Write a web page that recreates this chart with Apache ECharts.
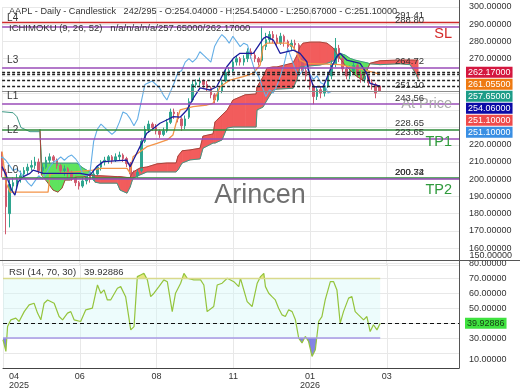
<!DOCTYPE html>
<html><head><meta charset="utf-8">
<script src="https://cdn.jsdelivr.net/npm/echarts@6/dist/echarts.min.js"></script>
<style>html,body{margin:0;padding:0;background:#fff}#c{width:520px;height:390px}</style>
</head><body><div id="c"></div>
<script>
// ================= DATA =================
const tickBars = [0, 42, 84, 126, 168, 210];
const tickLabels = ['04\n2025', '06', '08', '11', '01\n2026', '03'];

// one candle every 2 bars
const candleBar = [0,2,4,6,8,10,12,14,16,18,20,22,24,26,28,30,32,34,36,38,40,42,44,46,48,50,52,54,56,58,60,62,64,66,68,70,72,74,76,78,80,82,84,86,88,90,92,94,96,98,100,102,104,106,108,110,112,114,116,118,120,122,124,126,128,130,132,134,136,138,140,142,144,146,148,150,152,154,156,158,160,162,164,166,168,170,172,174,176,178,180,182,184,186,188,190,192,194,196,198,200,202,204,206];
const candleOpen = [214,204,180,196,197,200,203,205,207,208,
 210,205,207,211,213,211,208,205,206,204,
 201,198,196,199,202,200,203,207,210,211,
 213,211,213,214,212,209,203,202,205,222,
 229,232,230,228,226,228,233,239,238,235,
 231,236,246,255,256,257,255,253,249,246,
 251,257,262,263,268,270,268,270,274,272,
 270,269,277,281,284,282,279,283,280,277,
 279,278,270,263,260,254,248,252,250,254,
 260,267,276,270,264,260,263,266,261,258,
 260,256,255,254.04];
const candleClose = [205,184,197,198,200,202,205,207,208,210,
 205,207,211,213,211,208,205,206,204,201,
 198,196,199,202,200,203,207,210,211,213,
 211,213,214,212,209,203,202,204,222,229,
 232,230,228,226,228,233,239,238,235,231,
 235,245,255,256,257,255,253,249,246,251,
 256,262,263,268,270,268,270,274,272,270,
 268,277,281,284,282,279,283,280,277,279,
 278,270,263,260,254,248,252,250,254,260,
 267,276,270,264,260,263,266,261,258,260,
 256,255,250,251.10];
const candleLow = [201,168,172,193,195,198,201,203,205,206,
 203,203,206,209,209,206,203,202,201,199,
 196,194,195,197,198,199,202,205,208,209,
 209,210,211,210,207,201,200,201,204,221,
 227,228,226,224,225,227,232,235,233,228,
 229,235,245,253,254,253,251,247,244,245,
 250,256,260,262,266,266,266,268,270,268,
 266,268,275,279,279,277,278,277,274,275,
 275,268,261,257,252,243.5,246,247,248,253,
 258,265,268,262,258,258,261,259,256,256,
 254,252,247,250.67];
const candleHigh = [216,206,200,201,203,205,207,209,211,213,
 212,209,213,215,214,212,209,208,207,205,
 202,199,201,203,204,205,208,211,213,214,
 214,215,216,215,213,210,205,206,224,231,
 234,233,232,229,230,235,241,241,239,236,
 237,247,257,258,259,258,257,254,250,253,
 258,264,265,270,272,271,272,276,276,274,
 271,288.6,285,286,286,284,285,284,281,281,
 281,279,271,265,261,255,254,254,256,262,
 269,282,278,272,266,266,268,267,263,262,
 261,258,256,254.54];

const CHIKOU_SHIFT = 26;

const tenkanBar = [0,2.5,5.2,7.0,8.8,11.6,15.2,17.0,22.5,31.6,42.5,48.0,51.7,55.3,68.0,69.9,71.7,75.3,79.0,82.6,86.2,89.9,93.5,97.2,100.8,104.4,108.1,113.6,117.2,122.7,126.3,129.9,137.2,142.7,144.5,148.1,151.8,159.0,162.7,166.4,168.2,170.0,175.4,179.1,182.7,184.5,188.2,195.5,199.1,200.9,206.4];
const tenkanVal = [207.3,201.5,193.7,190.8,198.5,201.5,203.4,205.3,203.4,203.4,203.4,202.4,207.3,210.2,211.1,207.3,211.1,218.9,226.7,229.5,232.5,234.4,236.3,236.0,240.0,247.0,253.0,251.8,253.7,265.3,270.2,273.1,273.1,281.8,282.8,280.8,273.1,275.0,273.1,268.2,259.5,253.7,253.7,263.4,271.1,273.1,269.2,267.3,261.4,255.7,254.06];

const kijunBar = [0,2.1,4.3,25.1,26.2,49.6,53.5,68.2,69.9,71.5,75.3,79.1,84.6,90.1,93.3,95.5,97.2,104.3,111.9,115.2,119.0,124.5,131.6,137.0,140.9,142.5,144.7,155.6,158.9,161.1,162.7,166.5,184.5,195.5,206.4];
const kijunVal = [216,198,192.5,192.5,203,205.3,206.3,206.3,203.5,213,216,218.9,220.8,222.8,225.7,234.4,240.2,242.1,243.1,244.1,253.7,257.6,259.5,261.4,266.3,277,279,279,276.9,273.1,269.2,267.3,266.5,264,261.055];

const cloudBar = [0,6.0,8.1,10.3,15.2,20.7,21.5,22.3,25.1,27.8,30.5,32.7,34.4,37.1,40.9,44.2,48.0,49.6,50.7,53.5,62.8,64.4,68.2,69.9,71.5,75.3,79.1,84.6,90.1,95.0,96.1,98.3,102.6,108.1,109.7,115.2,116.3,120.1,122.8,126.1,132.7,138.7,139.2,142.5,144.7,148.0,150.1,158.9,161.1,162.7,164.3,168.2,173.6,177.4,180.7,182.9,184.5,187.3,190.0,192.7,196.6,199.3,200.9,206.4,211.8,217.3,222.8,225.5,227.2];
const spanA = [239.2,238.6,236.3,230.0,227.6,227.6,209.3,209.3,209.3,209.3,209.3,209.3,209.3,209.3,209.3,206.5,204.2,202.5,198.3,197.7,197.7,193.7,191.9,195.4,200.7,202.5,204.2,204.2,204.2,204.2,205.4,209.4,211.2,211.8,218.0,221.0,221.0,222.8,229.7,230.3,230.3,230.3,240.2,241.9,246.0,251.8,252.3,252.8,258.0,265.2,265.2,265.8,266.3,267.3,268.6,270.2,273.1,272.1,270.2,269.2,268.2,267.6,267.0,266.5,266.8,267.0,266.5,262.0,258.0];
const spanB = [null,null,null,null,null,229.0,202.5,202.5,197.7,193.7,192.5,194.8,199.5,199.5,201.3,201.3,202.5,202.0,202.0,202.0,201.5,201.5,201.0,201.0,204.2,206.5,207.1,208.9,209.4,209.4,213.5,216.5,217.0,218.0,225.0,226.3,233.3,237.3,240.0,246.0,249.0,249.5,253.5,259.5,264.6,265.2,265.2,267.5,272.1,276.9,279.0,279.6,279.6,279.0,276.3,272.7,270.2,266.3,263.4,260.5,257.6,263.4,267.3,268.8,269.0,269.2,269.2,269.2,269.2];

const rsiBar = [0,1.6,2.5,4.3,7.0,8.8,11.6,14.3,17.0,18.9,20.7,22.5,24.4,28.0,30.7,32.6,35.3,37.1,38.9,42.5,45.3,48.9,51.7,53.5,55.3,57.1,58.9,62.6,64.4,67.1,69.9,71.7,73.5,75.3,77.1,79.0,80.8,82.6,85.3,88.0,89.9,92.6,94.4,97.2,99.0,100.8,104.4,108.1,109.9,111.7,115.3,117.2,119.9,122.7,126.3,129.0,129.9,133.6,136.3,139.1,140.9,142.7,143.6,145.4,147.2,149.0,150.8,152.7,154.5,156.3,158.2,160.0,161.8,163.6,165.4,167.2,169.1,170.9,172.7,174.5,176.3,179.1,180.9,182.7,184.5,186.3,189.1,190.9,192.7,194.5,197.3,199.1,200.9,202.7,204.6,206.4];
const rsiVal = [28.9,21.1,37.7,42.2,43.3,41.1,47.7,52.2,53.3,46.7,42.2,53.3,55.5,53.3,44.4,42.2,46.7,47.7,42.2,41.1,48.9,50.0,65.5,60.0,62.2,55.5,55.5,63.3,64.4,57.7,35.5,37.7,71.1,72.2,73.3,68.9,57.7,60.0,64.4,68.9,67.7,47.7,60.0,66.7,73.3,70.0,68.9,68.9,65.5,47.7,51.1,65.5,66.7,70.0,67.7,64.4,70.0,54.4,51.1,66.7,71.1,73.3,64.4,60.0,57.7,55.5,50.0,45.5,44.4,48.9,47.7,42.2,30.0,26.7,31.1,27.7,17.7,22.2,41.1,44.4,55.5,67.7,67.7,62.2,40.0,47.7,56.7,57.7,47.7,45.5,42.2,44.4,34.4,38.9,35.5,39.92886];
const rsiUpper = 70, rsiLower = 30;
const rsiLast = 39.92886;

const levelPrices = [291.41, 288.80, 264.72, 262.17, 261.055, 257.65, 254.06, 251.10, 243.56, 228.65, 223.65, 200.72, 200.34];
const levelKind   = ['sl','lvl','lvl','dot','dot','dot','dot','price','lvl','tp','lvl','tp','lvl'];
const levelValueText = ['291.41','288.80','264.72','','','','','251.10','243.56','228.65','223.65','200.72','200.34'];
const levelNames = ['','L4','L3','','','','','','L1','','L2','','L0'];
const levelTags  = ['SL','','','','','','','At Price','','TP1','','TP2',''];

const priceTagValues = [262.17, 261.055, 257.65, 254.06, 251.10, 251.10];
const priceTagText = ['262.17000','261.05500','257.65000','254.06000','251.10000','251.10000'];
const mainAxisBottomValue = 150;

const titleMain = 'AAPL - Daily - Candlestick   242/295 - O:254.04000 - H:254.54000 - L:250.67000 - C:251.10000';
const titleIchi = 'ICHIMOKU (9, 26, 52)   n/a/n/a/n/a/257.65000/262.17000';
const titleRsi = 'RSI (14, 70, 30)   39.92886';
const watermark = 'Arincen';

// ================= STYLE =================
const FONT = '"Liberation Sans", Arial, sans-serif';
const XMAX = 249.5;
const UP = '#2fa58f', DN = '#d05a6e';
const CLOUD_UP = '#5ee35e', CLOUD_DN = '#f25c5c';
const tagColors = ['#d4173f', '#ee7a12', '#1d9c88', '#0b0ba6', '#ef4b4b', '#3a8fe3'];
const levelStyles = {
  sl:    {color:'#cf2a2a', width:1.3, type:'solid', tag:'#d42a2a'},
  lvl:   {color:'#9a4cb8', width:1.6, type:'solid'},
  dot:   {color:'#222222', width:1.4, type:[3,2]},
  price: {color:'#8c8c8c', width:1.2, type:'solid', tag:'#a8a8a8'},
  tp:    {color:'#2e8b3a', width:1.5, type:'solid', tag:'#2f9a3c'}
};
const hiddenMainTicks = [150, 230, 240, 250, 260];

// ================= BUILD =================
const chart = echarts.init(document.getElementById('c'), null, {width:520, height:390});

const candleData = candleBar.map((b,k)=>[b, candleOpen[k], candleClose[k], candleLow[k], candleHigh[k]]);
const chikouData = candleBar.map((b,k)=>[b - CHIKOU_SHIFT, candleClose[k]]);
const tenkanData = tenkanBar.map((b,k)=>[b, tenkanVal[k]]);
const kijunData = kijunBar.map((b,k)=>[b, kijunVal[k]]);
const spanAData = cloudBar.map((b,k)=>[b, spanA[k]]);
const spanBData = cloudBar.map((b,k)=>[b, spanB[k] == null ? '-' : spanB[k]]);
const cloudData = cloudBar.map((b,k)=>[b, spanA[k], spanB[k] == null ? spanA[k] : spanB[k]]);
const rsiData = rsiBar.map((b,k)=>[b, rsiVal[k]]);
const lastBar = candleBar[candleBar.length-1] + 0.4;

function renderCloud(params, api) {
  const k = params.dataIndex;
  if (k >= cloudBar.length - 1 || spanB[k] == null || spanB[k+1] == null) return null;
  const pts = [
    api.coord([cloudBar[k], spanA[k]]), api.coord([cloudBar[k+1], spanA[k+1]]),
    api.coord([cloudBar[k+1], spanB[k+1]]), api.coord([cloudBar[k], spanB[k]])
  ];
  const col = (spanA[k] + spanA[k+1] >= spanB[k] + spanB[k+1]) ? CLOUD_UP : CLOUD_DN;
  return {type:'polygon', shape:{points:pts}, style:{fill:col, stroke:col, lineWidth:0.6}};
}

const levelLines = [];
const labelCarrier = {color:'rgba(0,0,0,0)', width:1, type:'solid'};
levelPrices.forEach((p,k)=>{
  const st = levelStyles[levelKind[k]];
  const ls = {color:st.color, width:st.width, type:st.type};
  levelLines.push({yAxis:p, lineStyle:ls, label:{show:false}});
  if (levelNames[k]) levelLines.push({yAxis:p, lineStyle:labelCarrier, label:{show:true, position:'insideStartTop', formatter:levelNames[k], distance:[5,3], color:'#333', fontSize:10, fontFamily:FONT}});
  if (levelValueText[k]) levelLines.push({yAxis:p, lineStyle:labelCarrier, label:{show:true, position:'insideEndTop', formatter:levelValueText[k], distance:[35,1], color:'#333', fontSize:9.5, fontFamily:FONT}});
  if (levelTags[k]) levelLines.push({yAxis:p, lineStyle:labelCarrier, label:{show:true, position:'insideEndBottom', formatter:levelTags[k], distance:[7,5], color:st.tag, fontSize:14.5, fontFamily:FONT}});
});

const titleStyle = {fontSize:9.5, fontWeight:'normal', color:'#333', fontFamily:FONT};
const splitStyle = {lineStyle:{color:'#e8e8e8', width:1}};

const option = {
  animation:false,
  backgroundColor:'#ffffff',
  title:[
    {text:titleMain, left:9, top:6.8, padding:0, textStyle:Object.assign({}, titleStyle, {fontSize:9.15})},
    {text:titleIchi, left:9, top:23.5, padding:0, textStyle:titleStyle},
    {text:titleRsi, left:9, top:267, padding:0, textStyle:titleStyle}
  ],
  grid:[
    {left:2.1, right:61, top:7, bottom:124.7},
    {left:2.1, right:61, top:263.3, bottom:21.7}
  ],
  xAxis:[
    {type:'value', gridIndex:0, min:0, max:XMAX, interval:42, axisLabel:{show:false}, axisTick:{show:false}, axisLine:{show:false}, splitLine:splitStyle},
    {type:'value', gridIndex:1, min:0, max:XMAX, interval:42, axisTick:{show:false},
     axisLine:{show:true, lineStyle:{color:'#444'}}, splitLine:splitStyle,
     axisLabel:{color:'#333', fontSize:9, fontFamily:FONT, lineHeight:9, margin:4, alignMinLabel:'left', showMinLabel:true, showMaxLabel:false,
       formatter:v=>{const i = tickBars.indexOf(v); if (i<0) return ''; return i===0 ? tickLabels[i].split('\n').map(s=>'{f|'+s+'}').join('\n') : tickLabels[i];},
       rich:{f:{padding:[0,0,0,6], fontSize:9, fontFamily:FONT, color:'#333', lineHeight:9}}}}
  ],
  yAxis:[
    {type:'value', gridIndex:0, position:'right', min:150, max:300, interval:10, axisLine:{show:false}, axisTick:{show:false}, splitLine:splitStyle,
     axisLabel:{color:'#333', fontSize:9, fontFamily:FONT, margin:10, showMinLabel:true, showMaxLabel:true,
       formatter:v=> hiddenMainTicks.indexOf(v)>=0 ? '' : v.toFixed(5)}},
    {type:'value', gridIndex:1, position:'right', min:10, max:80, interval:10, axisLine:{show:false}, axisTick:{show:false}, splitLine:splitStyle,
     axisLabel:{color:'#333', fontSize:9, fontFamily:FONT, margin:10, showMinLabel:true, showMaxLabel:true,
       formatter:v=> v===40 ? '' : (v===10 ? '{lo|10.00000}' : v.toFixed(5)),
       rich:{lo:{padding:[0,0,16,0], fontSize:9, fontFamily:FONT, color:'#333'}}}}
  ],
  visualMap:[{type:'piecewise', show:false, seriesIndex:8, dimension:1,
    pieces:[{lt:rsiLower, color:'#6f6fe0'},{gte:rsiLower, lte:rsiUpper, color:'rgba(0,0,0,0)'},{gt:rsiUpper, color:'#e4e46a'}]}],
  series:[
    {type:'custom', name:'cloud', xAxisIndex:0, yAxisIndex:0, renderItem:renderCloud, data:cloudData, encode:{x:0, y:[1,2]}, clip:true, silent:true, z:1},
    {type:'candlestick', name:'AAPL', xAxisIndex:0, yAxisIndex:0, data:candleData, barWidth:2,
     itemStyle:{color:UP, color0:DN, borderColor:UP, borderColor0:DN, borderWidth:1},
     markLine:{silent:true, symbol:['none','none'], animation:false, data:levelLines}},
    {type:'line', name:'spanA', xAxisIndex:0, yAxisIndex:0, data:spanAData, showSymbol:false, symbol:'none', lineStyle:{color:'#3f9a86', width:1}, silent:true},
    {type:'line', name:'spanB', xAxisIndex:0, yAxisIndex:0, data:spanBData, showSymbol:false, symbol:'none', lineStyle:{color:'#a8453c', width:1}, silent:true},
    {type:'line', name:'kijun', xAxisIndex:0, yAxisIndex:0, data:kijunData, showSymbol:false, symbol:'none', lineStyle:{color:'#f39448', width:1.3}, silent:true},
    {type:'line', name:'chikou', xAxisIndex:0, yAxisIndex:0, data:chikouData, showSymbol:false, symbol:'none', lineStyle:{color:'#64aee6', width:1.1}, silent:true},
    {type:'line', name:'tenkan', xAxisIndex:0, yAxisIndex:0, data:tenkanData, showSymbol:false, symbol:'none', lineStyle:{color:'#1d1d9e', width:1.3}, silent:true},
    {type:'line', name:'RSI', xAxisIndex:1, yAxisIndex:1, data:rsiData, showSymbol:false, symbol:'none', lineStyle:{color:'#94c43c', width:1.2}, silent:true, z:4,
     markArea:{silent:true, itemStyle:{color:'rgba(210,247,247,0.4)'}, data:[[{coord:[0,rsiLower]},{coord:[lastBar,rsiUpper]}]]},
     markLine:{silent:true, symbol:['none','none'], animation:false, label:{show:false}, data:[
       [{coord:[0,rsiUpper], lineStyle:{color:'#d9d98c', width:1.3, type:'solid'}},{coord:[lastBar,rsiUpper]}],
       [{coord:[0,rsiLower], lineStyle:{color:'#a79ae6', width:1.6, type:'solid'}},{coord:[lastBar,rsiLower]}],
       {yAxis:rsiLast, lineStyle:{color:'#111', width:1.1, type:[4,3]}}
     ]}},
    {type:'line', name:'RSIfill', xAxisIndex:1, yAxisIndex:1, data:rsiData, showSymbol:false, symbol:'none', lineStyle:{width:0, opacity:0}, areaStyle:{origin:rsiLower, opacity:0.85}, silent:true, z:3}
  ]
};
chart.setOption(option);

// overlays: watermark, panel frame, value tags (positions from the axis scales)
const g = [];
g.push({type:'text', left:'center', top:182, z:0, silent:true, style:{text:watermark, font:'27px '+FONT, fill:'#6f6f6f'}});
g.push({type:'line', z:50, silent:true, shape:{x1:0, y1:260.5, x2:520, y2:260.5}, style:{stroke:'#555', lineWidth:1}});
g.push({type:'line', z:50, silent:true, shape:{x1:459.5, y1:0, x2:459.5, y2:368.5}, style:{stroke:'#555', lineWidth:1}});
// bottom price label of the main axis, lifted above the panel separator as in the original
const yBottom = chart.convertToPixel({yAxisIndex:0}, mainAxisBottomValue);
g.push({type:'text', z:40, silent:true, x:469.5, y:yBottom - 9.5,
  style:{text:mainAxisBottomValue.toFixed(5), fill:'#333', font:'9px '+FONT, align:'left', verticalAlign:'middle'}});
const TAG_STEP = 12;
const yTag0 = chart.convertToPixel({yAxisIndex:0}, priceTagValues[0]);
priceTagText.forEach((t,k)=>{
  g.push({type:'text', z:60, silent:true, x:466, y:yTag0 + k*TAG_STEP,
    style:{text:t, fill:'#ffffff', font:'9px '+FONT, backgroundColor:tagColors[k], padding:[1,2,1,2], align:'left', verticalAlign:'middle'}});
});
const yRsi = chart.convertToPixel({yAxisIndex:1}, rsiLast);
g.push({type:'text', z:60, silent:true, x:465, y:yRsi,
  style:{text:rsiLast.toFixed(5), fill:'#153d15', font:'9px '+FONT, backgroundColor:'#3fe23f', padding:[1,2,1,2], align:'left', verticalAlign:'middle'}});
chart.setOption({graphic:g});
</script>
</body></html>
